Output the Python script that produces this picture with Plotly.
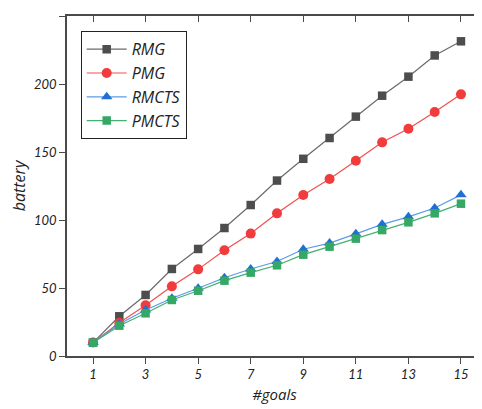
import plotly.graph_objects as go

goals = list(range(1, 16))
rmg = [9.8, 29.2, 44.9, 64.0, 78.7, 94.1, 111.0, 129.0, 145.0, 160.3, 176.0, 191.4, 205.4, 221.0, 231.4]
pmg = [10.0, 24.5, 37.3, 51.2, 63.7, 77.7, 90.0, 104.9, 118.4, 130.1, 143.6, 157.1, 167.1, 179.4, 192.4]
rmcts = [10.0, 23.5, 33.8, 42.5, 49.8, 57.5, 64.0, 69.5, 78.5, 83.0, 89.8, 96.8, 102.3, 108.8, 118.5]
pmcts = [9.8, 22.3, 31.4, 41.2, 48.0, 55.4, 61.3, 66.7, 74.5, 80.4, 86.3, 92.6, 98.3, 104.9, 112.0]
x_ticks = [1, 3, 5, 7, 9, 11, 13, 15]
y_ticks = [0, 50, 100, 150, 200, 250]

FONT = "Lato"
TFONT = "Open Sans"
axc = "#4a4a4a"

fig = go.Figure()
series = [
    ("RMG", rmg, "square", "#4d4d4d", "#6a6a6a", 8.5),
    ("PMG", pmg, "circle", "#f03c3c", "#f05050", 10),
    ("RMCTS", rmcts, "triangle-up", "#1f6fd6", "#5c9be6", 10),
    ("PMCTS", pmcts, "square", "#35a866", "#45b070", 8.5),
]
for name, ys, sym, mc, lc, ms in series:
    fig.add_trace(go.Scatter(
        x=goals, y=ys, name=name, mode="lines+markers",
        line=dict(color=lc, width=1.2),
        marker=dict(symbol=sym, color=mc, size=ms, line=dict(width=0)),
    ))

# page body adds ~8px offset at top/left
fig.update_layout(
    width=474, height=401,
    margin=dict(l=59, r=0, t=8, b=53),
    plot_bgcolor="white", paper_bgcolor="white",
    font=dict(family=FONT, color="#222"),
    showlegend=True,
    legend=dict(
        x=0.033, y=0.955, xanchor="left", yanchor="top",
        bordercolor="#222", borderwidth=1, bgcolor="white",
        font=dict(family=TFONT, size=16, style="italic", color="#222"),
        tracegroupgap=0, itemwidth=40,
    ),
    xaxis=dict(
        range=[0.01, 15.8], tickvals=x_ticks, ticks="outside", ticklen=6,
        tickwidth=1.2, tickcolor=axc, showline=True, linecolor=axc, linewidth=1.5,
        showgrid=False, zeroline=False,
        tickfont=dict(family=FONT, size=13, style="italic", color="#222"),
        title=dict(text="#goals", font=dict(family=TFONT, size=15, style="italic", color="#222"), standoff=8),
    ),
    yaxis=dict(
        range=[0, 250], tickvals=y_ticks, ticks="outside", ticklen=6,
        tickwidth=1.2, tickcolor=axc, showline=True, linecolor=axc, linewidth=1.5,
        showgrid=False, zeroline=False,
        tickfont=dict(family=FONT, size=13, style="italic", color="#222"),
        title=dict(text="battery", font=dict(family=TFONT, size=16, style="italic", color="#222"), standoff=10),
    ),
    xaxis2=dict(
        overlaying="x", side="top", matches="x", range=[0.01, 15.8], tickvals=x_ticks,
        ticks="inside", ticklen=6, tickwidth=1.2, tickcolor=axc, showticklabels=False,
        showline=True, linecolor=axc, linewidth=1.5, showgrid=False, zeroline=False,
    ),
    yaxis2=dict(
        overlaying="y", side="right", range=[0, 250], tickvals=y_ticks,
        ticks="inside", ticklen=6, tickwidth=1.2, tickcolor=axc, showticklabels=False,
        showline=True, linecolor=axc, linewidth=1.5, showgrid=False, zeroline=False,
    ),
)
fig.add_trace(go.Scatter(x=[None], y=[None], xaxis="x2", yaxis="y2", showlegend=False, hoverinfo="skip"))

fig.write_html("out.html")
